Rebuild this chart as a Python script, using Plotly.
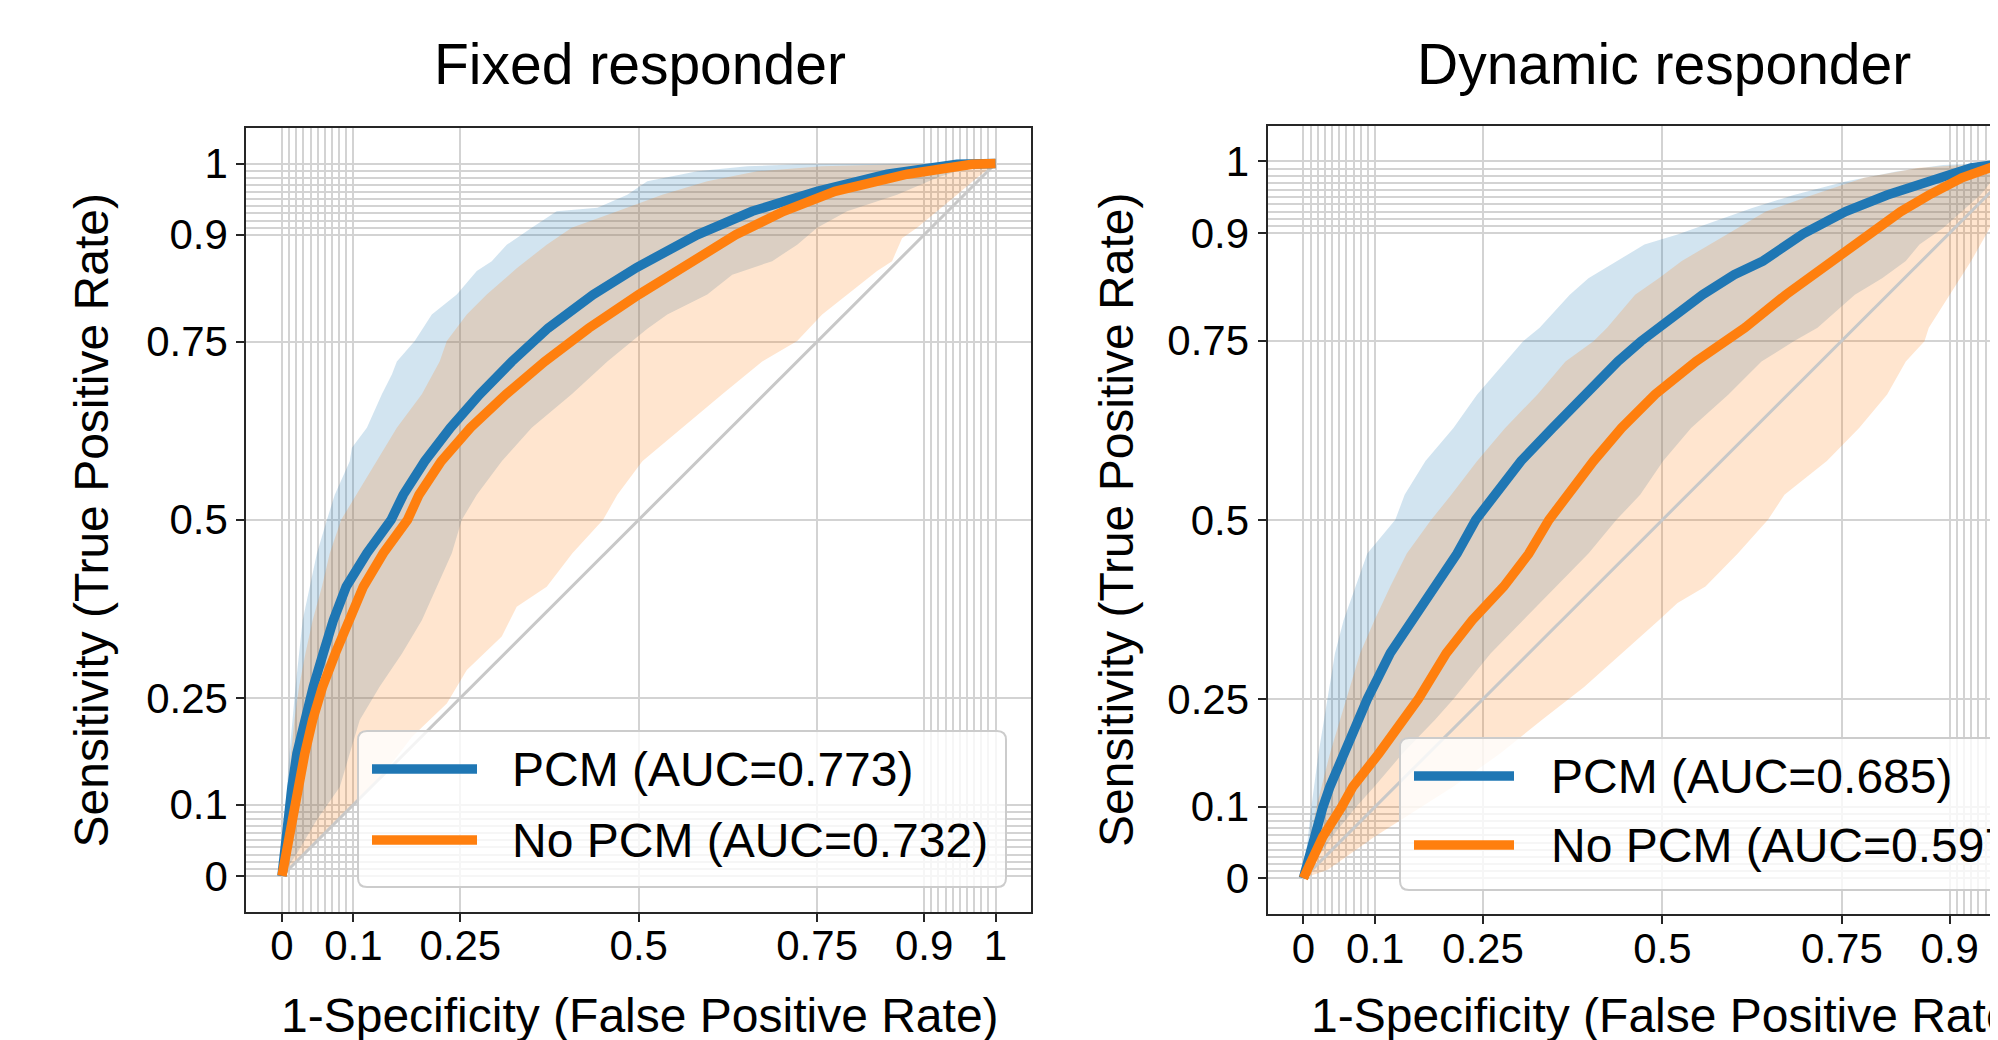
import plotly.graph_objects as go

# The page body adds an 8px margin; figure coordinates are offset accordingly.
OFF = 8
W, H = 1998 - OFF, 1040 - OFF
BLUE = "#1f77b4"
ORANGE = "#ff7f0e"
GRID = "#d3d3d3"
SPINE = "#262626"
FONT = "Liberation Sans"

# ---------------- data ----------------
titles = ["Fixed responder", "Dynamic responder"]
x_label = "1-Specificity (False Positive Rate)"
y_label = "Sensitivity (True Positive Rate)"
tick_vals = [0, 0.1, 0.25, 0.5, 0.75, 0.9, 1]
tick_text = ["0", "0.1", "0.25", "0.5", "0.75", "0.9", "1"]
minor_vals = [0.01, 0.02, 0.03, 0.04, 0.05, 0.06, 0.07, 0.08, 0.09,
              0.91, 0.92, 0.93, 0.94, 0.95, 0.96, 0.97, 0.98, 0.99]
legend_left = ["PCM (AUC=0.773)", "No PCM (AUC=0.732)"]
legend_right = ["PCM (AUC=0.685)", "No PCM (AUC=0.597)"]

# Fixed responder - mean ROC curves
fx_pcm_x = [0, 0.007, 0.014, 0.021, 0.032, 0.044, 0.058, 0.072, 0.090, 0.119, 0.153, 0.170, 0.200, 0.236,
            0.277, 0.322, 0.373, 0.436, 0.497, 0.582, 0.659, 0.750, 0.848, 0.946, 1]
fx_pcm_y = [0, 0.079, 0.125, 0.172, 0.219, 0.266, 0.313, 0.359, 0.406, 0.453, 0.50, 0.535, 0.582, 0.629,
            0.676, 0.722, 0.769, 0.816, 0.854, 0.90, 0.933, 0.961, 0.985, 0.999, 1]
fx_nopcm_x = [0, 0.014, 0.021, 0.032, 0.043, 0.057, 0.075, 0.094, 0.114, 0.142, 0.176, 0.192, 0.223, 0.264,
              0.314, 0.368, 0.430, 0.500, 0.559, 0.636, 0.703, 0.775, 0.876, 0.967, 1]
fx_nopcm_y = [0, 0.079, 0.125, 0.172, 0.219, 0.266, 0.313, 0.359, 0.406, 0.453, 0.50, 0.535, 0.582, 0.629,
              0.676, 0.722, 0.769, 0.816, 0.854, 0.90, 0.933, 0.961, 0.985, 0.999, 1]
# Fixed responder - bands
fx_pcm_up_x = [0, 0.0035, 0.0105, 0.019, 0.029, 0.049, 0.063, 0.074, 0.095, 0.098, 0.119, 0.140, 0.154, 0.161,
               0.186, 0.210, 0.245, 0.273, 0.294, 0.315, 0.350, 0.385, 0.442, 0.484, 0.512, 0.582, 0.652, 0.722, 1]
fx_pcm_up_y = [0, 0.079, 0.172, 0.266, 0.359, 0.453, 0.50, 0.535, 0.582, 0.601, 0.629, 0.676, 0.704, 0.722,
               0.751, 0.788, 0.816, 0.849, 0.863, 0.886, 0.910, 0.933, 0.938, 0.956, 0.975, 0.989, 0.996, 0.999, 1]
fx_pcm_lo_x = [0, 0.021, 0.049, 0.081, 0.095, 0.109, 0.137, 0.168, 0.196, 0.217, 0.238, 0.252, 0.273, 0.308,
               0.350, 0.406, 0.456, 0.491, 0.512, 0.540, 0.596, 0.631, 0.687, 0.722, 0.750, 0.792, 0.862, 0.918,
               0.960, 1]
fx_pcm_lo_y = [0, 0.032, 0.079, 0.125, 0.172, 0.219, 0.266, 0.312, 0.359, 0.406, 0.453, 0.50, 0.535, 0.582,
               0.629, 0.676, 0.722, 0.751, 0.768, 0.788, 0.816, 0.844, 0.863, 0.886, 0.910, 0.933, 0.956, 0.980,
               0.994, 1]
fx_nopcm_up_x = [0, 0.007, 0.0126, 0.0175, 0.024, 0.033, 0.043, 0.056, 0.067, 0.083, 0.133, 0.161, 0.196, 0.221,
                 0.231, 0.259, 0.287, 0.329, 0.371, 0.406, 0.470, 0.533, 0.596, 0.666, 0.757, 0.862, 1]
fx_nopcm_up_y = [0, 0.102, 0.172, 0.219, 0.266, 0.313, 0.359, 0.406, 0.453, 0.50, 0.582, 0.629, 0.676, 0.722,
                 0.751, 0.788, 0.816, 0.853, 0.886, 0.910, 0.933, 0.956, 0.975, 0.989, 0.996, 0.999, 1]
fx_nopcm_lo_x = [0, 0.011, 0.056, 0.101, 0.147, 0.182, 0.231, 0.259, 0.308, 0.329, 0.371, 0.407, 0.450, 0.470,
                 0.505, 0.561, 0.617, 0.673, 0.722, 0.757, 0.792, 0.834, 0.855, 0.869, 0.890, 0.918, 0.946, 0.974, 1]
fx_nopcm_lo_y = [0, 0.013, 0.055, 0.102, 0.149, 0.195, 0.242, 0.289, 0.336, 0.378, 0.406, 0.453, 0.50, 0.535,
                 0.582, 0.629, 0.676, 0.722, 0.751, 0.788, 0.816, 0.849, 0.863, 0.895, 0.910, 0.933, 0.956, 0.980, 1]

# Dynamic responder - mean ROC curves
dy_pcm_x = [0, 0.014, 0.027, 0.037, 0.056, 0.076, 0.089, 0.121, 0.151, 0.183, 0.214, 0.240, 0.268, 0.303,
            0.347, 0.391, 0.438, 0.470, 0.495, 0.556, 0.600, 0.640, 0.696, 0.755, 0.813, 0.884, 0.93, 1]
dy_pcm_y = [0, 0.058, 0.099, 0.128, 0.174, 0.221, 0.25, 0.314, 0.360, 0.407, 0.453, 0.50, 0.535, 0.582,
            0.628, 0.675, 0.721, 0.749, 0.768, 0.814, 0.842, 0.861, 0.899, 0.930, 0.953, 0.977, 0.991, 1]
dy_nopcm_x = [0, 0.027, 0.053, 0.069, 0.105, 0.141, 0.160, 0.199, 0.235, 0.279, 0.314, 0.342, 0.368, 0.404,
              0.443, 0.490, 0.547, 0.586, 0.615, 0.672, 0.735, 0.787, 0.832, 0.871, 0.917, 0.962, 1]
dy_nopcm_y = [0, 0.058, 0.099, 0.128, 0.174, 0.221, 0.25, 0.314, 0.360, 0.407, 0.453, 0.50, 0.535, 0.582,
              0.628, 0.675, 0.721, 0.749, 0.768, 0.814, 0.861, 0.899, 0.930, 0.953, 0.977, 0.993, 1]
# Dynamic responder - bands
dy_pcm_up_x = [0, 0.011, 0.021, 0.034, 0.044, 0.056, 0.073, 0.089, 0.128, 0.141, 0.170, 0.209, 0.242, 0.281,
               0.306, 0.329, 0.371, 0.397, 0.436, 0.475, 0.521, 0.573, 0.625, 0.683, 0.755, 0.826, 0.891, 1]
dy_pcm_up_y = [0, 0.099, 0.174, 0.25, 0.314, 0.360, 0.407, 0.453, 0.50, 0.535, 0.582, 0.628, 0.675, 0.721,
               0.749, 0.768, 0.814, 0.837, 0.861, 0.884, 0.898, 0.917, 0.935, 0.953, 0.972, 0.986, 0.995, 1]
dy_pcm_lo_x = [0, 0.040, 0.073, 0.099, 0.138, 0.183, 0.209, 0.261, 0.306, 0.352, 0.397, 0.436, 0.469, 0.501,
               0.540, 0.592, 0.638, 0.683, 0.716, 0.768, 0.806, 0.839, 0.858, 0.891, 0.917, 0.943, 0.962, 1]
dy_pcm_lo_y = [0, 0.058, 0.099, 0.128, 0.174, 0.221, 0.25, 0.314, 0.360, 0.407, 0.453, 0.50, 0.535, 0.582,
               0.628, 0.675, 0.721, 0.749, 0.768, 0.814, 0.837, 0.861, 0.884, 0.907, 0.930, 0.953, 0.977, 1]
dy_nopcm_up_x = [0, 0.018, 0.037, 0.060, 0.079, 0.099, 0.121, 0.144, 0.178, 0.206, 0.242, 0.281, 0.326, 0.365,
                 0.404, 0.423, 0.462, 0.495, 0.527, 0.566, 0.605, 0.644, 0.709, 0.781, 0.858, 1]
dy_nopcm_up_y = [0, 0.099, 0.174, 0.25, 0.314, 0.360, 0.407, 0.453, 0.50, 0.535, 0.582, 0.628, 0.675, 0.721,
                 0.749, 0.768, 0.814, 0.837, 0.861, 0.884, 0.907, 0.930, 0.953, 0.977, 0.991, 1]
dy_nopcm_lo_x = [0, 0.034, 0.099, 0.164, 0.209, 0.274, 0.332, 0.391, 0.443, 0.495, 0.521, 0.560, 0.605, 0.647,
                 0.670, 0.729, 0.774, 0.813, 0.839, 0.865, 0.871, 0.900, 0.930, 0.956, 0.975, 1]
dy_nopcm_lo_y = [0, 0.012, 0.058, 0.099, 0.128, 0.174, 0.221, 0.267, 0.314, 0.360, 0.384, 0.407, 0.453, 0.50,
                 0.535, 0.582, 0.628, 0.675, 0.721, 0.749, 0.768, 0.814, 0.861, 0.907, 0.953, 1]

chance_x = [0, 1]
chance_y = [0, 1]

# ---------------- figure ----------------
fig = go.Figure()


def px_x(x):
    """screen pixel x -> paper coordinate"""
    return (x - OFF) / W


def px_y(y):
    """screen pixel y -> paper coordinate"""
    return (H - (y - OFF)) / H


def add_panel(xa, ya, pcm, nopcm, pcm_band, nopcm_band):
    bx = pcm_band[0] + pcm_band[2][::-1]
    by = pcm_band[1] + pcm_band[3][::-1]
    fig.add_trace(go.Scatter(x=bx, y=by, xaxis=xa, yaxis=ya, mode="lines", fill="toself",
                             fillcolor="rgba(31,119,180,0.2)", line=dict(width=0),
                             hoverinfo="skip", showlegend=False))
    ox = nopcm_band[0] + nopcm_band[2][::-1]
    oy = nopcm_band[1] + nopcm_band[3][::-1]
    fig.add_trace(go.Scatter(x=ox, y=oy, xaxis=xa, yaxis=ya, mode="lines", fill="toself",
                             fillcolor="rgba(255,127,14,0.2)", line=dict(width=0),
                             hoverinfo="skip", showlegend=False))
    fig.add_trace(go.Scatter(x=chance_x, y=chance_y, xaxis=xa, yaxis=ya, mode="lines",
                             line=dict(color="#c8c8c8", width=3), hoverinfo="skip", showlegend=False))
    fig.add_trace(go.Scatter(x=pcm[0], y=pcm[1], xaxis=xa, yaxis=ya, mode="lines",
                             line=dict(color=BLUE, width=9.5), showlegend=False))
    fig.add_trace(go.Scatter(x=nopcm[0], y=nopcm[1], xaxis=xa, yaxis=ya, mode="lines",
                             line=dict(color=ORANGE, width=9.5), showlegend=False))


add_panel("x", "y", (fx_pcm_x, fx_pcm_y), (fx_nopcm_x, fx_nopcm_y),
          (fx_pcm_up_x, fx_pcm_up_y, fx_pcm_lo_x, fx_pcm_lo_y),
          (fx_nopcm_up_x, fx_nopcm_up_y, fx_nopcm_lo_x, fx_nopcm_lo_y))
add_panel("x2", "y2", (dy_pcm_x, dy_pcm_y), (dy_nopcm_x, dy_nopcm_y),
          (dy_pcm_up_x, dy_pcm_up_y, dy_pcm_lo_x, dy_pcm_lo_y),
          (dy_nopcm_up_x, dy_nopcm_up_y, dy_nopcm_lo_x, dy_nopcm_lo_y))

tickfont = dict(family=FONT, size=42, color="black")
common = dict(tickmode="array", tickvals=tick_vals, ticktext=tick_text, ticks="outside",
              ticklen=8, tickwidth=2, tickcolor=SPINE, showline=True, linewidth=2, linecolor=SPINE,
              showgrid=True, gridcolor=GRID, gridwidth=2, zeroline=False, tickfont=tickfont,
              minor=dict(tickmode="array", tickvals=minor_vals, showgrid=True, gridcolor=GRID,
                         gridwidth=2, ticks=""))

L_left, L_right, L_top, L_bot = 246.3, 1031.2, 127.9, 911.6
R_left, R_top, R_bot = 1267.5, 125.5, 914.2
R_xmax = (1998 - 1303.4) / 718.0

fig.update_layout(
    width=W, height=H, margin=dict(l=0, r=0, t=0, b=0, autoexpand=False),
    paper_bgcolor="white", plot_bgcolor="white", showlegend=False,
    xaxis=dict(domain=[px_x(L_left), px_x(L_right)], range=[-0.05, 1.05], anchor="y", mirror=True,
               ticklabelstandoff=-12, **common),
    yaxis=dict(domain=[px_y(L_bot), px_y(L_top)], range=[-0.05, 1.05], anchor="x", mirror=True, **common),
    xaxis2=dict(domain=[px_x(R_left), 1.0], range=[-0.05, R_xmax], anchor="y2", mirror=True,
                ticklabelstandoff=-12, **common),
    yaxis2=dict(domain=[px_y(R_bot), px_y(R_top)], range=[-0.05, 1.05], anchor="x2", mirror=False, **common),
)

annotations = []
# titles
annotations.append(dict(text=titles[0], x=px_x(639.5), y=px_y(64), xref="paper", yref="paper",
                        showarrow=False, xanchor="center", yanchor="middle",
                        font=dict(family=FONT, size=57, color="black")))
annotations.append(dict(text=titles[1], x=px_x(1664), y=px_y(64), xref="paper", yref="paper",
                        showarrow=False, xanchor="center", yanchor="middle",
                        font=dict(family=FONT, size=57, color="black")))
# axis labels
for cx in (639.5, 1670):
    annotations.append(dict(text=x_label, x=px_x(cx), y=px_y(1015.5), xref="paper", yref="paper",
                            showarrow=False, xanchor="center", yanchor="middle",
                            font=dict(family=FONT, size=48, color="black")))
for cx in (91, 1116.5):
    annotations.append(dict(text=y_label, x=px_x(cx), y=px_y(520.5), xref="paper", yref="paper",
                            showarrow=False, xanchor="center", yanchor="middle", textangle=-90,
                            font=dict(family=FONT, size=48, color="black")))

shapes = []


def rounded_box(x0, y0, x1, y1, r):
    def p(x, y):
        return f"{px_x(x):.6f},{px_y(y):.6f}"
    return ("M " + p(x0 + r, y0) + " L " + p(x1 - r, y0) + " Q " + p(x1, y0) + " " + p(x1, y0 + r) +
            " L " + p(x1, y1 - r) + " Q " + p(x1, y1) + " " + p(x1 - r, y1) +
            " L " + p(x0 + r, y1) + " Q " + p(x0, y1) + " " + p(x0, y1 - r) +
            " L " + p(x0, y0 + r) + " Q " + p(x0, y0) + " " + p(x0 + r, y0) + " Z")


def legend(box, line_x, text_x, rows, labels):
    shapes.append(dict(type="path", path=rounded_box(*box, 9), xref="paper", yref="paper",
                       fillcolor="rgba(255,255,255,0.8)", line=dict(color="#cccccc", width=2),
                       layer="above"))
    for yrow, col, lab in zip(rows, (BLUE, ORANGE), labels):
        shapes.append(dict(type="line", xref="paper", yref="paper", x0=px_x(line_x[0]), x1=px_x(line_x[1]),
                           y0=px_y(yrow), y1=px_y(yrow), line=dict(color=col, width=9.5), layer="above"))
        annotations.append(dict(text=lab, x=px_x(text_x), y=px_y(yrow), xref="paper", yref="paper",
                                showarrow=False, xanchor="left", yanchor="middle",
                                font=dict(family=FONT, size=48, color="black")))


legend((358, 731, 1006, 887), (372, 477), 510, (769, 840), legend_left)
legend((1400, 738, 2045, 890), (1414, 1514), 1549, (776, 845), legend_right)

fig.update_layout(annotations=annotations, shapes=shapes)
fig.write_html("out.html")
